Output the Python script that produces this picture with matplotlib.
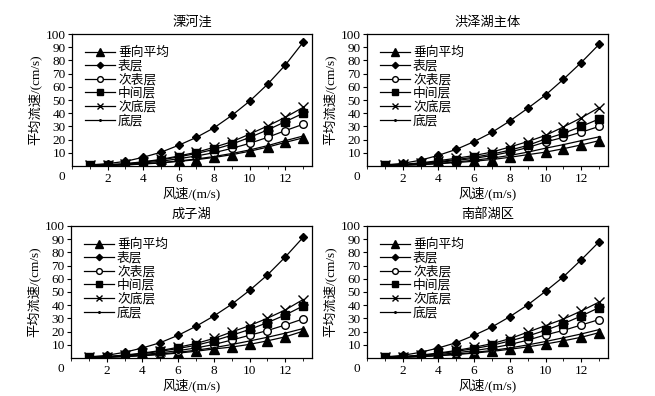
import numpy as np
import matplotlib
matplotlib.use("Agg")
import matplotlib.pyplot as plt
from matplotlib.ticker import MultipleLocator

plt.rcParams['font.family'] = ['Liberation Serif', 'Noto Sans CJK SC']
plt.rcParams['axes.unicode_minus'] = False

wind = np.arange(1, 14)

series_names = ["垂向平均", "表层", "次表层", "中间层", "次底层", "底层"]
panel_titles = ["溧河洼", "洪泽湖主体", "成子湖", "南部湖区"]

# 溧河洼
lhw_mean = [0.2, 0.4, 0.8, 1.5, 2.3, 3.5, 4.8, 6.5, 8.6, 11.2, 14.3, 17.9, 21.3]
lhw_surf = [0.8, 1.8, 3.5, 6.6, 10.4, 15.7, 21.7, 29.0, 38.4, 49.2, 61.9, 76.5, 93.7]
lhw_sub_surf = [0.3, 0.6, 1.2, 2.3, 3.6, 5.5, 7.6, 10.1, 13.4, 17.2, 21.7, 26.8, 31.6]
lhw_mid = [0.4, 0.8, 1.5, 2.9, 4.6, 6.9, 9.5, 12.6, 16.6, 21.7, 27.3, 33.6, 39.9]
lhw_sub_bot = [0.5, 1.0, 1.8, 3.2, 5.0, 7.6, 10.4, 14.2, 18.4, 24.2, 30.3, 36.9, 44.4]
lhw_bot = [0.2, 0.5, 0.9, 1.6, 2.6, 3.8, 5.3, 7.2, 9.5, 12.2, 15.4, 19.2, 22.7]

# 洪泽湖主体
hz_mean = [0.2, 0.5, 1.0, 1.7, 2.6, 3.6, 4.9, 6.6, 8.6, 10.5, 13.1, 16.0, 19.2]
hz_surf = [0.8, 2.0, 4.4, 8.1, 12.6, 18.5, 25.5, 34.1, 43.7, 53.8, 65.7, 78.4, 92.2]
hz_sub_surf = [0.4, 0.9, 1.7, 2.8, 4.2, 5.8, 7.9, 10.6, 14.0, 18.2, 21.7, 25.6, 30.0]
hz_mid = [0.4, 1.0, 2.0, 3.3, 4.9, 6.7, 9.0, 12.0, 15.6, 20.5, 24.7, 30.0, 35.6]
hz_sub_bot = [0.5, 1.2, 2.4, 4.0, 5.9, 7.9, 10.6, 14.4, 18.5, 23.2, 29.6, 36.5, 44.3]
hz_bot = [0.3, 0.6, 1.2, 2.0, 3.1, 4.4, 6.0, 8.0, 10.5, 13.5, 16.2, 19.2, 22.1]

# 成子湖
czh_mean = [0.2, 0.5, 1.0, 1.7, 2.6, 3.7, 5.1, 6.8, 8.3, 10.3, 13.0, 16.0, 20.3]
czh_surf = [0.8, 2.0, 4.3, 7.6, 11.6, 17.2, 24.0, 31.8, 40.7, 51.2, 62.9, 76.5, 91.4]
czh_sub_surf = [0.3, 0.8, 1.5, 2.6, 3.9, 5.6, 7.6, 10.2, 13.6, 17.2, 20.8, 25.0, 29.6]
czh_mid = [0.4, 1.0, 1.9, 3.3, 5.0, 7.2, 9.6, 13.0, 17.2, 21.6, 26.8, 32.6, 39.4]
czh_sub_bot = [0.5, 1.1, 2.2, 3.7, 5.6, 8.1, 11.0, 14.8, 19.7, 24.5, 30.1, 36.4, 44.3]
czh_bot = [0.3, 0.6, 1.1, 2.0, 3.0, 4.3, 5.9, 7.8, 10.2, 12.9, 15.7, 18.8, 22.3]

# 南部湖区
nb_mean = [0.2, 0.5, 1.0, 1.7, 2.6, 3.7, 5.0, 6.6, 8.4, 10.6, 13.0, 15.7, 19.2]
nb_surf = [0.8, 2.0, 4.3, 7.6, 11.6, 17.2, 23.5, 31.3, 40.2, 50.5, 61.5, 74.4, 88.0]
nb_sub_surf = [0.3, 0.8, 1.5, 2.6, 3.9, 5.6, 7.6, 10.2, 13.5, 17.5, 20.9, 25.0, 29.1]
nb_mid = [0.4, 1.0, 1.9, 3.3, 5.0, 7.1, 9.6, 12.9, 16.6, 21.0, 26.0, 31.8, 38.2]
nb_sub_bot = [0.5, 1.1, 2.2, 3.7, 5.7, 8.1, 10.9, 14.6, 19.6, 24.5, 29.5, 35.6, 42.4]
nb_bot = [0.3, 0.6, 1.1, 1.9, 2.9, 4.2, 5.7, 7.6, 9.9, 12.5, 15.3, 18.2, 21.5]

panels = [
    [lhw_mean, lhw_surf, lhw_sub_surf, lhw_mid, lhw_sub_bot, lhw_bot],
    [hz_mean, hz_surf, hz_sub_surf, hz_mid, hz_sub_bot, hz_bot],
    [czh_mean, czh_surf, czh_sub_surf, czh_mid, czh_sub_bot, czh_bot],
    [nb_mean, nb_surf, nb_sub_surf, nb_mid, nb_sub_bot, nb_bot],
]

# marker styles per layer
styles = [
    dict(marker='^', ms=7.5, mfc='black', mec='black'),
    dict(marker='D', ms=4.3, mfc='black', mec='black'),
    dict(marker='o', ms=5.5, mfc='white', mec='black'),
    dict(marker='s', ms=5.5, mfc='black', mec='black'),
    dict(marker='x', ms=6.5, mfc='black', mec='black', mew=1.0),
    dict(marker='.', ms=3, mfc='black', mec='black'),
]

fig = plt.figure(figsize=(6.55, 3.96), dpi=100)

# axes boxes in figure fraction (left, bottom, width, height)
boxes = [
    [0.1099, 0.5808, 0.3664, 0.3333],
    [0.5603, 0.5808, 0.3680, 0.3333],
    [0.1084, 0.0960, 0.3680, 0.3333],
    [0.5603, 0.0960, 0.3680, 0.3333],
]

for box, title, data in zip(boxes, panel_titles, panels):
    ax = fig.add_axes(box)
    for name, vals, st in zip(series_names, data, styles):
        ax.plot(wind, vals, color='black', lw=0.9, label=name, **st)

    ax.set_xlim(0, 13.5)
    ax.set_ylim(0, 100)
    ax.xaxis.set_minor_locator(MultipleLocator(1))
    ax.set_xticks(range(2, 13, 2))
    ax.set_yticks(range(10, 101, 10))
    ax.tick_params(direction='out', length=3, width=0.8, labelsize=9.5, pad=2)
    ax.tick_params(which='minor', direction='out', length=2, width=0.6)
    ax.tick_params(axis='y', pad=1.5)
    for sp in ax.spines.values():
        sp.set_linewidth(0.9)

    ax.annotate("0", xy=(0, 0), xycoords='axes fraction', xytext=(-10, -11),
                textcoords='offset pixels', ha='center', va='center', fontsize=9.5)

    ax.set_title(title, fontsize=9.5, pad=6)
    ax.set_xlabel("风速/(m/s)", fontsize=9.5, labelpad=1)
    ax.set_ylabel("平均流速/(cm/s)", fontsize=9.5, labelpad=3)

    ax.legend(loc='upper left', frameon=False, fontsize=9.2, handlelength=2.4,
              handletextpad=0.2, labelspacing=0.08, borderaxespad=0.5,
              borderpad=0.5, markerscale=0.75)

fig.savefig("out.png", dpi=100)
